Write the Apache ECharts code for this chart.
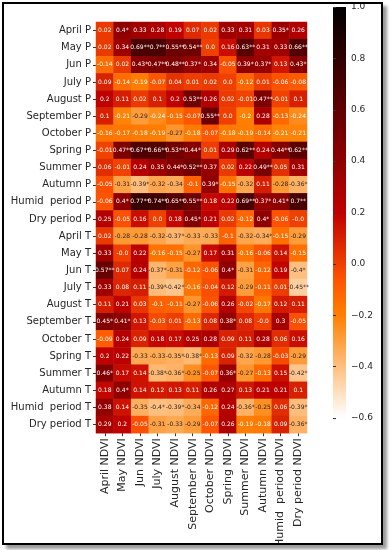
<!DOCTYPE html>
<html><head><meta charset="utf-8">
<script src="https://cdn.jsdelivr.net/npm/echarts@6/dist/echarts.min.js"></script>
<style>
html,body{margin:0;padding:0;background:#fff;}
#frame{position:absolute;left:2px;top:2px;width:377px;height:539px;border:2px solid #000;box-shadow:4px 4px 3px #9a9a9a;overflow:hidden;background:#fff;}
#chart{position:absolute;left:-4px;top:-4px;width:392px;height:550px;}
</style></head>
<body>
<div id="frame"><div id="chart"></div></div>
<script>
const rowLabels = ['April P','May P','Jun P','July P','August P','September P','October P','Spring P','Summer P','Autumn P','Humid  period P','Dry period P',
  'April T','May T','Jun T','July T','August T','September T','October T','Spring T','Summer T','Autumn T','Humid  period T','Dry period T'];
const colLabels = ['April NDVI','May NDVI','Jun NDVI','July NDVI','August NDVI','September NDVI','October NDVI','Spring NDVI','Summer NDVI','Autumn NDVI','Humid  period NDVI','Dry period NDVI'];
const colorbarTicks = [-0.6,-0.4,-0.2,0.0,0.2,0.4,0.6,0.8,1.0];

// correlation coefficients (with significance marks) for precipitation rows
const valuesP = [
 ['0.02','0.4*','0.33','0.28','0.19','0.07','0.02','0.33','0.31','0.03','0.35*','0.26'],
 ['0.02','0.34','0.69**','0.7**','0.55**','0.54**','0.0','0.16','0.63**','0.31','0.33','0.66**'],
 ['-0.14','0.02','0.43*','0.47**','0.48**','0.37*','0.34','-0.05','0.39*','0.37*','0.13','0.43*'],
 ['0.09','-0.14','-0.19','-0.07','0.04','0.01','0.02','0.0','-0.12','0.01','-0.06','-0.08'],
 ['0.2','0.11','0.02','0.1','0.2','0.53**','0.26','0.02','-0.01','0.47**','-0.01','0.1'],
 ['0.1','-0.21','-0.29','-0.24','-0.15','-0.07','0.55**','0.0','-0.2','0.28','-0.13','-0.24'],
 ['-0.16','-0.17','-0.18','-0.19','-0.27','-0.18','-0.07','-0.18','-0.19','-0.14','-0.21','-0.21'],
 ['-0.01','0.47**','0.67**','0.66**','0.53**','0.44*','0.01','0.29','0.62**','0.24','0.44**','0.62**'],
 ['0.06','-0.01','0.24','0.35','0.44*','0.52**','0.37','0.02','0.22','0.49**','0.05','0.31'],
 ['-0.05','-0.31','-0.39*','-0.32','-0.34','-0.1','0.39*','-0.15','-0.32','0.11','-0.28','-0.36*'],
 ['-0.06','0.4*','0.77**','0.74**','0.65**','0.55**','0.18','0.22','0.69**','0.37*','0.41*','0.7**'],
 ['0.25','-0.05','0.16','0.0','0.18','0.45*','0.21','0.02','-0.12','0.4*','-0.06','-0.0']
];
// correlation coefficients for temperature rows
const valuesT = [
 ['0.02','-0.28','-0.28','-0.32','-0.37*','-0.33','-0.33','-0.1','-0.32','-0.34*','-0.15','-0.29'],
 ['0.33','-0.0','0.22','-0.16','-0.15','-0.27','0.17','0.31','-0.16','-0.06','0.14','-0.15'],
 ['0.57**','0.07','0.24','-0.37*','-0.31','-0.12','-0.06','0.4*','-0.31','-0.12','0.19','-0.4*'],
 ['0.33','0.08','0.11','-0.39*','-0.42*','-0.16','-0.04','0.12','-0.29','-0.11','0.01','-0.45**'],
 ['0.11','0.21','0.03','-0.1','-0.11','-0.27','-0.06','0.26','-0.02','-0.17','0.12','0.11'],
 ['0.45*','0.41*','0.13','-0.03','0.01','-0.13','0.08','0.38*','0.08','-0.0','0.3','-0.05'],
 ['-0.09','0.24','0.09','0.18','0.17','0.25','0.28','0.09','0.11','0.28','0.06','0.16'],
 ['0.2','0.22','-0.33','-0.33','-0.35*','-0.38*','-0.13','0.09','-0.32','-0.28','-0.03','-0.29'],
 ['0.46*','0.17','0.14','-0.38*','-0.36*','-0.25','-0.07','0.36*','-0.27','-0.13','0.15','-0.42*'],
 ['0.18','0.4*','0.14','0.12','0.13','0.11','0.26','0.27','0.13','0.21','0.21','0.1'],
 ['0.38','0.14','-0.35','-0.4*','-0.39*','-0.34','-0.12','0.24','-0.36*','-0.25','0.06','-0.39*'],
 ['0.29','0.2','-0.05','-0.31','-0.33','-0.29','-0.07','0.26','-0.19','-0.18','0.09','-0.36*']
];

const vMin = -0.6, vMax = 1.0;
function gistHeatR(t){ // t in [0,1], 0 = low
  const x = 1 - Math.max(0, Math.min(1, t));
  const c = v => Math.round(255*Math.max(0, Math.min(1, v)));
  return [c(1.5*x), c(2*x-1), c(4*x-3)];
}
function rgbStr(a){return 'rgb('+a[0]+','+a[1]+','+a[2]+')';}
function lum(a){
  const l = v => { v/=255; return v<=0.03928? v/12.92 : Math.pow((v+0.055)/1.055,2.4); };
  return 0.2126*l(a[0])+0.7152*l(a[1])+0.0722*l(a[2]);
}
const stops = [];
for(let i=0;i<=64;i++) stops.push(rgbStr(gistHeatR(i/64)));

const allRows = valuesP.concat(valuesT);
const data = [];
allRows.forEach((row, r) => row.forEach((s, c) => {
  const v = parseFloat(s);
  const rgb = gistHeatR((v - vMin)/(vMax - vMin));
  data.push({value:[c, r, v], label:{color: lum(rgb) > 0.408 ? '#262626' : '#ffffff'}, txt:s});
}));

const gradStops = [];
for(let i=0;i<=64;i++) gradStops.push({offset:i/64, color: rgbStr(gistHeatR(1 - i/64))});

const chart = echarts.init(document.getElementById('chart'), null, {renderer:'canvas'});
const FONT = 'DejaVu Sans';
const gLeft = 96, gTop = 22, gW = 211, gH = 420;
const cbLeft = 333, cbTop = 7, cbW = 13, cbH = 411;
chart.setOption({
  animation:false,
  textStyle:{fontFamily:FONT},
  grid:[
    {left:gLeft, top:gTop, width:gW, height:gH, containLabel:false},
    {left:cbLeft, top:cbTop, width:cbW, height:cbH, containLabel:false}
  ],
  xAxis:[
    {type:'category', data:colLabels, gridIndex:0, position:'bottom',
     axisLine:{show:false}, axisTick:{show:true, length:3, alignWithLabel:true, lineStyle:{color:'#333'}},
     axisLabel:{rotate:90, fontSize:11, color:'#262626', interval:0, margin:5, fontFamily:FONT}, splitLine:{show:false}},
    {type:'value', gridIndex:1, show:false, min:0, max:1}
  ],
  yAxis:[
    {type:'category', data:rowLabels, gridIndex:0, inverse:true,
     axisLine:{show:false}, axisTick:{show:true, length:3, alignWithLabel:true, lineStyle:{color:'#333'}},
     axisLabel:{fontSize:10, color:'#262626', interval:0, margin:5, fontFamily:FONT}, splitLine:{show:false}},
    {type:'value', gridIndex:1, position:'right', min:vMin, max:vMax, interval:0.2,
     axisLine:{show:false}, axisTick:{show:true, length:3, lineStyle:{color:'#333'}},
     splitLine:{show:false},
     axisLabel:{fontSize:9, color:'#262626', margin:5, fontFamily:FONT,
       formatter:v=>{const s=(Math.round(v*10)/10).toFixed(1); return s.replace('-','\u2212');}}}
  ],
  visualMap:{show:false, type:'continuous', min:vMin, max:vMax, dimension:2, seriesIndex:0, inRange:{color:stops}},
  graphic:[{type:'rect', left:cbLeft, top:cbTop, z:-1, shape:{width:cbW, height:cbH},
    style:{fill:new echarts.graphic.LinearGradient(0,0,0,1,gradStops)}}],
  series:[{
    type:'heatmap', xAxisIndex:0, yAxisIndex:0, data:data,
    label:{show:true, fontSize:6, fontFamily:FONT,
      formatter:p=>p.data.txt},
    itemStyle:{borderWidth:0},
    emphasis:{disabled:true}
  }]
});
</script>
</body></html>
